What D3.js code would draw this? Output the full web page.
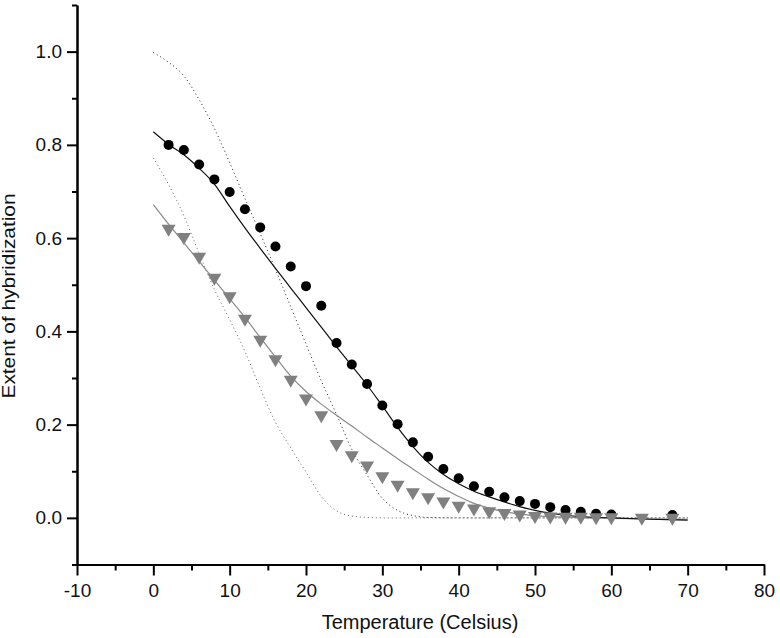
<!DOCTYPE html>
<html>
<head>
<meta charset="utf-8">
<script src="https://cdn.jsdelivr.net/npm/d3@7"></script>
<style>
  html, body { margin: 0; padding: 0; background: #fff; }
  svg { display: block; font-family: "Liberation Sans", Arial, sans-serif; }
</style>
</head>
<body>
<svg id="chart" width="780" height="638"></svg>
<script>
// ---- Data ----
const circleT = [2,4,6,8,10,12,14,16,18,20,22,24,26,28,30,32,34,36,38,40,42,44,46,48,50,52,54,56,58,60,68];
const circleV = [0.800,0.789,0.758,0.726,0.699,0.662,0.623,0.582,0.539,0.497,0.455,0.375,0.329,0.287,0.241,0.201,0.162,0.131,0.105,0.085,0.068,0.056,0.044,0.036,0.030,0.023,0.017,0.013,0.009,0.007,0.006];

const triT = [2,4,6,8,10,12,14,16,18,20,22,24,26,28,30,32,34,36,38,40,42,44,46,48,50,52,54,56,58,60,64,68];
const triV = [0.617,0.599,0.557,0.512,0.472,0.424,0.379,0.337,0.293,0.253,0.217,0.155,0.131,0.109,0.086,0.068,0.052,0.041,0.032,0.023,0.017,0.011,0.007,0.004,0.001,0.000,-0.001,-0.001,-0.002,-0.002,-0.003,-0.003];

const blackFitT = [0,2,4,6,8,10,12,14,16,18,20,22,24,26,28,30,32,34,36,38,40,42,44,46,48,50,52,55,60,65,70];
const blackFitV = [0.828,0.801,0.779,0.750,0.716,0.668,0.622,0.578,0.535,0.493,0.451,0.409,0.367,0.326,0.285,0.240,0.194,0.153,0.119,0.093,0.073,0.057,0.045,0.034,0.024,0.016,0.010,0.004,0.000,-0.003,-0.005];

const grayFitT = [0,2,4,6,8,10,12,14,16,18,20,22,24,26,28,30,32,34,36,38,40,42,44,46,48,50,55,60,70];
const grayFitV = [0.672,0.630,0.590,0.550,0.510,0.470,0.430,0.387,0.345,0.304,0.271,0.244,0.220,0.197,0.173,0.150,0.127,0.105,0.083,0.063,0.046,0.031,0.021,0.013,0.008,0.005,0.001,-0.001,-0.003];

const blackDotT = [0,2,4,6,8,10,12,14,16,18,20,22,24,26,28,30,32,34,36,40,50,60,70];
const blackDotV = [0.998,0.977,0.948,0.897,0.835,0.762,0.685,0.610,0.533,0.453,0.373,0.294,0.222,0.147,0.092,0.042,0.016,0.005,0.001,0.000,0.000,0.000,0.000];

const grayDotT = [0,2,4,6,8,10,12,14,16,18,20,22,24,26,28,30,40,50,60,70];
const grayDotV = [0.772,0.715,0.648,0.567,0.490,0.425,0.357,0.278,0.205,0.150,0.098,0.046,0.015,0.004,0.001,0.000,0.000,0.000,0.000,0.000];

const xMajor = [-10,0,10,20,30,40,50,60,70,80];
const xMinor = [-5,5,15,25,35,45,55,65,75];
const yMajor = [0.0,0.2,0.4,0.6,0.8,1.0];
const yMinor = [-0.1,0.1,0.3,0.5,0.7,0.9,1.1];

const xTitle = "Temperature (Celsius)";
const yTitle = "Extent of hybridization";

// ---- Chart ----
const svg = d3.select("#chart");
const x = d3.scaleLinear().domain([-10, 80]).range([77, 764]);
const y = d3.scaleLinear().domain([-0.1, 1.1]).range([564.5, 5]);

const zip = (a, b) => a.map((t, i) => [t, b[i]]);
const line = d3.line().x(d => x(d[0])).y(d => y(d[1])).curve(d3.curveMonotoneX);

// fitted / model lines
svg.append("path").datum(zip(blackDotT, blackDotV))
  .attr("d", line).attr("fill", "none").attr("stroke", "#222")
  .attr("stroke-width", 1).attr("stroke-dasharray", "1,3");
svg.append("path").datum(zip(grayDotT, grayDotV))
  .attr("d", line).attr("fill", "none").attr("stroke", "#666")
  .attr("stroke-width", 1).attr("stroke-dasharray", "1,3");
svg.append("path").datum(zip(grayFitT, grayFitV))
  .attr("d", line).attr("fill", "none").attr("stroke", "#8a8a8a")
  .attr("stroke-width", 1.2);
svg.append("path").datum(zip(blackFitT, blackFitV))
  .attr("d", line).attr("fill", "none").attr("stroke", "#111")
  .attr("stroke-width", 1.2);

// markers
svg.append("g").selectAll("circle").data(zip(circleT, circleV)).join("circle")
  .attr("cx", d => x(d[0])).attr("cy", d => y(d[1])).attr("r", 5)
  .attr("fill", "#000");
svg.append("g").selectAll("path").data(zip(triT, triV)).join("path")
  .attr("transform", d => `translate(${x(d[0])},${y(d[1])})`)
  .attr("d", "M-7,-5.5L7,-5.5L0,6.5Z")
  .attr("fill", "#808080");

// axes
function styleAxis(g) {
  g.select(".domain").attr("stroke", "#000").attr("stroke-width", 2);
  g.selectAll(".tick line").attr("stroke", "#000").attr("stroke-width", 2);
  g.selectAll(".tick text").attr("fill", "#111").style("font-size", "19px")
    .style("font-family", '"Liberation Sans", Arial, sans-serif');
}
const gxMinor = svg.append("g").attr("transform", "translate(0,564.5)")
  .call(d3.axisBottom(x).tickValues(xMinor).tickSize(6).tickSizeOuter(0).tickFormat(""));
styleAxis(gxMinor);
const gx = svg.append("g").attr("transform", "translate(0,564.5)")
  .call(d3.axisBottom(x).tickValues(xMajor).tickSize(11).tickSizeOuter(0).tickPadding(8).tickFormat(d => String(d)));
styleAxis(gx);

const gyMinor = svg.append("g").attr("transform", "translate(77,0)")
  .call(d3.axisLeft(y).tickValues(yMinor).tickSize(5).tickSizeOuter(0).tickFormat(""));
styleAxis(gyMinor);
const gy = svg.append("g").attr("transform", "translate(77,0)")
  .call(d3.axisLeft(y).tickValues(yMajor).tickSize(10).tickSizeOuter(0).tickPadding(5).tickFormat(d => d.toFixed(1)));
styleAxis(gy);

// titles
svg.append("text").attr("x", 420).attr("y", 629).attr("text-anchor", "middle")
  .style("font-size", "20px").attr("fill", "#111").text(xTitle);
svg.append("text").attr("transform", "translate(15,296) rotate(-90)")
  .attr("text-anchor", "middle").style("font-size", "18px")
  .attr("textLength", 205).attr("lengthAdjust", "spacingAndGlyphs")
  .attr("fill", "#111").text(yTitle);
</script>
</body>
</html>
